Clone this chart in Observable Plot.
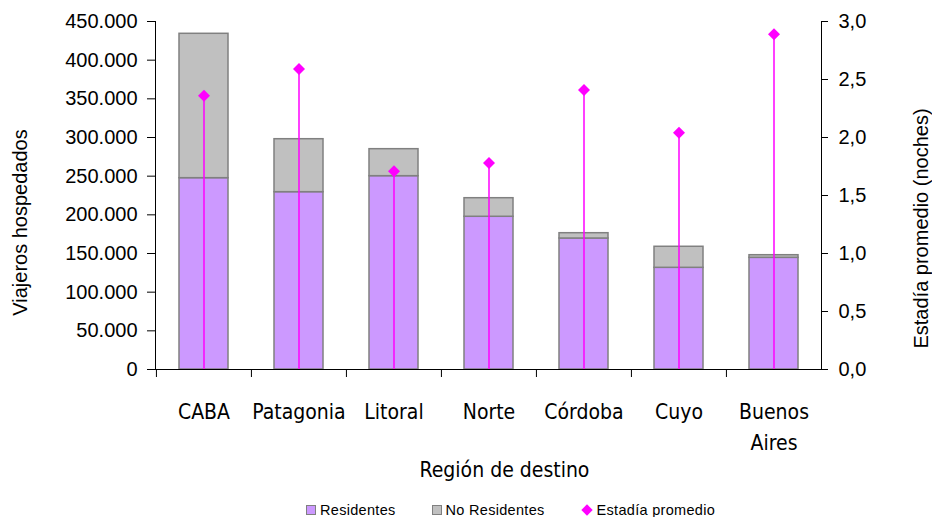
<!DOCTYPE html>
<html>
<head>
<meta charset="utf-8">
<script src="https://cdn.jsdelivr.net/npm/d3@7"></script>
<script src="https://cdn.jsdelivr.net/npm/@observablehq/plot@0.6"></script>
<style>
  html, body { margin: 0; padding: 0; background: #fff; }
  #wrap { width: 932px; height: 517px; position: relative; overflow: hidden; }
  #legend { position: absolute; left: 306px; top: 500px; height: 20px; display: flex; align-items: center;
            font-family: "Liberation Sans", Arial, sans-serif; font-size: 14.5px; color: #000; letter-spacing: 0.3px; }
  .item { display: flex; align-items: center; }
  .sw { width: 8px; height: 8px; border: 1px solid #808080; margin-right: 4px; }
  .dia { width: 8px; height: 8px; background: #FF00FF; transform: rotate(45deg); margin-right: 6px; margin-left: 2px; }
</style>
</head>
<body>
<div id="wrap">
  <div id="chart"></div>
  <div id="legend"></div>
</div>
<script>
const regiones = ["CABA", "Patagonia", "Litoral", "Norte", "Córdoba", "Cuyo", "Buenos Aires"];
const residentes = [247400, 229300, 250000, 197500, 169400, 131500, 144400];
const noResidentes = [186700, 68500, 34900, 24000, 6850, 27200, 3400];
const estadia = [2.36, 2.59, 1.71, 1.78, 2.41, 2.04, 2.89];
const series = ["Residentes", "No Residentes"];
const seriesColors = ["#CC99FF", "#C0C0C0"];
const leftTicks = [0, 50000, 100000, 150000, 200000, 250000, 300000, 350000, 400000, 450000];
const rightTicks = [0, 0.5, 1.0, 1.5, 2.0, 2.5, 3.0];
const ratio = 150000; // 1 noche on right axis == 150.000 on left axis

const barData = [];
regiones.forEach((r, i) => {
  barData.push({region: r, serie: series[0], value: residentes[i]});
  barData.push({region: r, serie: series[1], value: noResidentes[i]});
});
const lineData = regiones.map((r, i) => ({region: r, estadia: estadia[i]}));

const loc = d3.formatLocale({decimal: ",", thousands: ".", grouping: [3], currency: ["$", ""]});
const fmtL = loc.format(",.0f");
const fmtR = loc.format(".1f");

const W = 932, H = 495, mL = 155, mR = 111, mT = 21, mB = 126;
const bw = (W - mL - mR) / regiones.length;

const chart = Plot.plot({
  width: W, height: H,
  marginTop: mT, marginBottom: mB, marginLeft: mL, marginRight: mR,
  x: {domain: regiones, padding: 0},
  y: {domain: [0, 450000]},
  color: {domain: series, range: seriesColors},
  style: {fontFamily: "'Liberation Sans', Arial, sans-serif", fontSize: "20px", color: "#000", background: "#fff"},
  marks: [
    Plot.barY(barData, {x: "region", y: "value", fill: "serie", stroke: "#808080", strokeWidth: 1.5,
                        insetLeft: 23, insetRight: 23}),
    Plot.ruleX(lineData, {x: "region", y1: 0, y2: d => d.estadia * ratio, stroke: "#FF00FF", strokeWidth: 1.5}),
    Plot.dot(lineData, {x: "region", y: d => d.estadia * ratio, symbol: "diamond2", r: 5.4, fill: "#FF00FF", stroke: "none"}),
    Plot.ruleY([0], {stroke: "#000"}),
    Plot.frame({anchor: "left", stroke: "#000"}),
    Plot.frame({anchor: "right", stroke: "#000"}),
    Plot.axisY(leftTicks, {anchor: "left", tickSize: 8, tickPadding: 10, tickFormat: fmtL, label: null, fontSize: 20}),
    Plot.axisY(rightTicks.map(v => v * ratio), {anchor: "right", tickSize: 6, tickPadding: 11,
               tickFormat: d => fmtR(d / ratio), label: null, fontSize: 20}),
    Plot.axisX({tickSize: 8, tickFormat: () => "", dx: -bw / 2, label: null}),
    Plot.axisX({tickSize: 0, tickPadding: 27, label: null, fontSize: 21,
                fontFamily: "'Liberation Sans Narrow', 'DejaVu Sans Condensed', sans-serif",
                lineHeight: 1.5,
                tickFormat: d => d === "Buenos Aires" ? "Buenos\nAires" : d}),
    Plot.text(["Viajeros hospedados"], {text: d => d, frameAnchor: "left", rotate: -90, dx: -135, dy: 27,
               textAnchor: "middle", lineAnchor: "middle", fontSize: 20}),
    Plot.text(["Estadía promedio (noches)"], {text: d => d, frameAnchor: "right", rotate: -90, dx: 100, dy: 33,
               textAnchor: "middle", lineAnchor: "middle", fontSize: 20}),
    Plot.text(["Región de destino"], {text: d => d, frameAnchor: "bottom", dx: 16, dy: 101,
               textAnchor: "middle", lineAnchor: "middle", fontSize: 21,
               fontFamily: "'Liberation Sans Narrow', 'DejaVu Sans Condensed', sans-serif"})
  ]
});
document.getElementById("chart").appendChild(chart);

const legend = document.getElementById("legend");
const items = [
  {label: "Residentes", kind: "sw", color: seriesColors[0]},
  {label: "No Residentes", kind: "sw", color: seriesColors[1]},
  {label: "Estadía promedio", kind: "dia", color: "#FF00FF"}
];
items.forEach((it, i) => {
  const el = document.createElement("div");
  el.className = "item";
  el.style.marginRight = i < items.length - 1 ? "36px" : "0";
  const s = document.createElement("span");
  s.className = it.kind;
  s.style.background = it.color;
  el.appendChild(s);
  const t = document.createElement("span");
  t.textContent = it.label;
  el.appendChild(t);
  legend.appendChild(el);
});
</script>
</body>
</html>
